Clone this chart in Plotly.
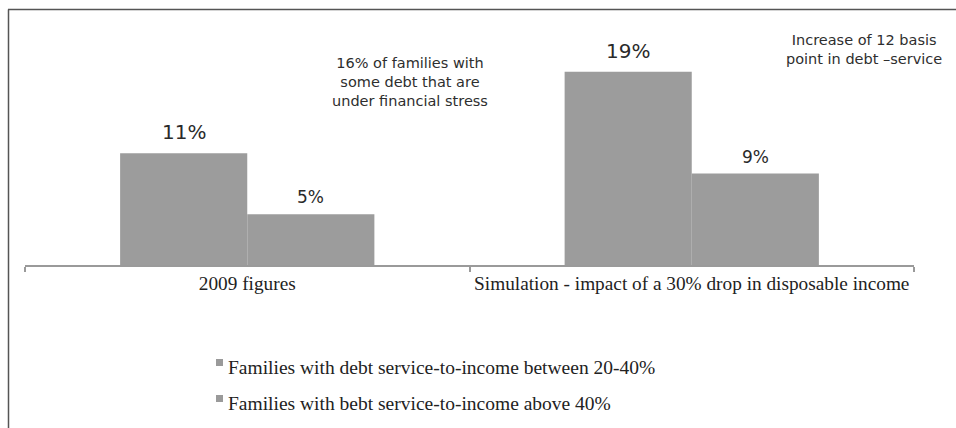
import plotly.graph_objects as go

# Data
categories = ["2009 figures", "Simulation - impact of a 30% drop in disposable income"]
series_names = [
    "Families with debt service-to-income between 20-40%",
    "Families with bebt service-to-income above 40%",
]
share_20_40 = [11, 19]
share_above_40 = [5, 9]
series_values = [share_20_40, share_above_40]

note_left = "16% of families with<br>some debt that are<br>under financial stress"
note_right = "Increase of 12 basis<br>point in debt –service"

# Page geometry (pixels)
W, H = 956, 428
ML, MR, MT, MB = 25, 42, 21, 163
PW, PH = W - ML - MR, H - MT - MB


def px_x(px):
    return (px - ML) / PW


def px_y(py):
    return (H - MB - py) / PH


bar_color = "#9c9c9c"
label_sizes = [20, 17]
label_shift = [21, 17]
x_offsets = [-63.5, 63.5]

fig = go.Figure()
for name, vals in zip(series_names, series_values):
    fig.add_trace(go.Bar(
        x=categories, y=vals, name=name,
        marker=dict(color=bar_color, line=dict(width=0)),
        showlegend=False,
    ))

annotations = []
# value labels above each bar
for s, vals in enumerate(series_values):
    for i, v in enumerate(vals):
        annotations.append(dict(
            x=i, y=v, xref="x", yref="y", text=f"{v}%", showarrow=False,
            xshift=x_offsets[s], yshift=label_shift[s], yanchor="middle",
            font=dict(family="DejaVu Sans", size=label_sizes[s], color="#2a2a2a"),
        ))

# explanatory notes
annotations.append(dict(
    x=px_x(410), y=px_y(82), xref="paper", yref="paper", text=note_left,
    showarrow=False, align="center", xanchor="center", yanchor="middle",
    font=dict(family="DejaVu Sans", size=14.5, color="#2e2e2e"),
))
annotations.append(dict(
    x=px_x(864), y=px_y(50), xref="paper", yref="paper", text=note_right,
    showarrow=False, align="center", xanchor="center", yanchor="middle",
    font=dict(family="DejaVu Sans", size=14.5, color="#2e2e2e"),
))

shapes = []
# legend drawn below the chart
legend_rows = [367, 403]
for name, yrow in zip(series_names, legend_rows):
    shapes.append(dict(
        type="rect", xref="paper", yref="paper",
        x0=px_x(216), x1=px_x(223), y0=px_y(yrow - 8), y1=px_y(yrow - 1),
        fillcolor="#9a9a9a", line=dict(width=0),
    ))
    annotations.append(dict(
        x=px_x(226), y=px_y(yrow), xref="paper", yref="paper", text=name,
        showarrow=False, xanchor="left", yanchor="middle",
        font=dict(family="Liberation Serif", size=19.5, color="#222222"),
    ))

# frame around the figure (top and left edges)
shapes.append(dict(type="line", xref="paper", yref="paper",
                   x0=px_x(8), x1=px_x(W), y0=px_y(9.5), y1=px_y(9.5),
                   line=dict(color="#555555", width=1.5)))
shapes.append(dict(type="line", xref="paper", yref="paper",
                   x0=px_x(8.5), x1=px_x(8.5), y0=px_y(9.5), y1=px_y(H),
                   line=dict(color="#555555", width=1.5)))

fig.update_layout(
    width=W, height=H,
    margin=dict(l=ML, r=MR, t=MT, b=MB, autoexpand=False),
    paper_bgcolor="white", plot_bgcolor="white",
    barmode="group", bargap=0.428, bargroupgap=0,
    showlegend=False,
    annotations=annotations, shapes=shapes,
    xaxis=dict(
        showline=True, linecolor="#9a9a9a", linewidth=2,
        ticks="outside", tickson="boundaries", ticklen=5, tickcolor="#9a9a9a", tickwidth=1.5,
        showgrid=False, zeroline=False, tickangle=0, automargin=False,
        tickfont=dict(family="Liberation Serif", size=19.3, color="#222222"),
    ),
    yaxis=dict(range=[0, 24], visible=False, showgrid=False, zeroline=False,
               automargin=False),
)

fig.write_html("out.html")
